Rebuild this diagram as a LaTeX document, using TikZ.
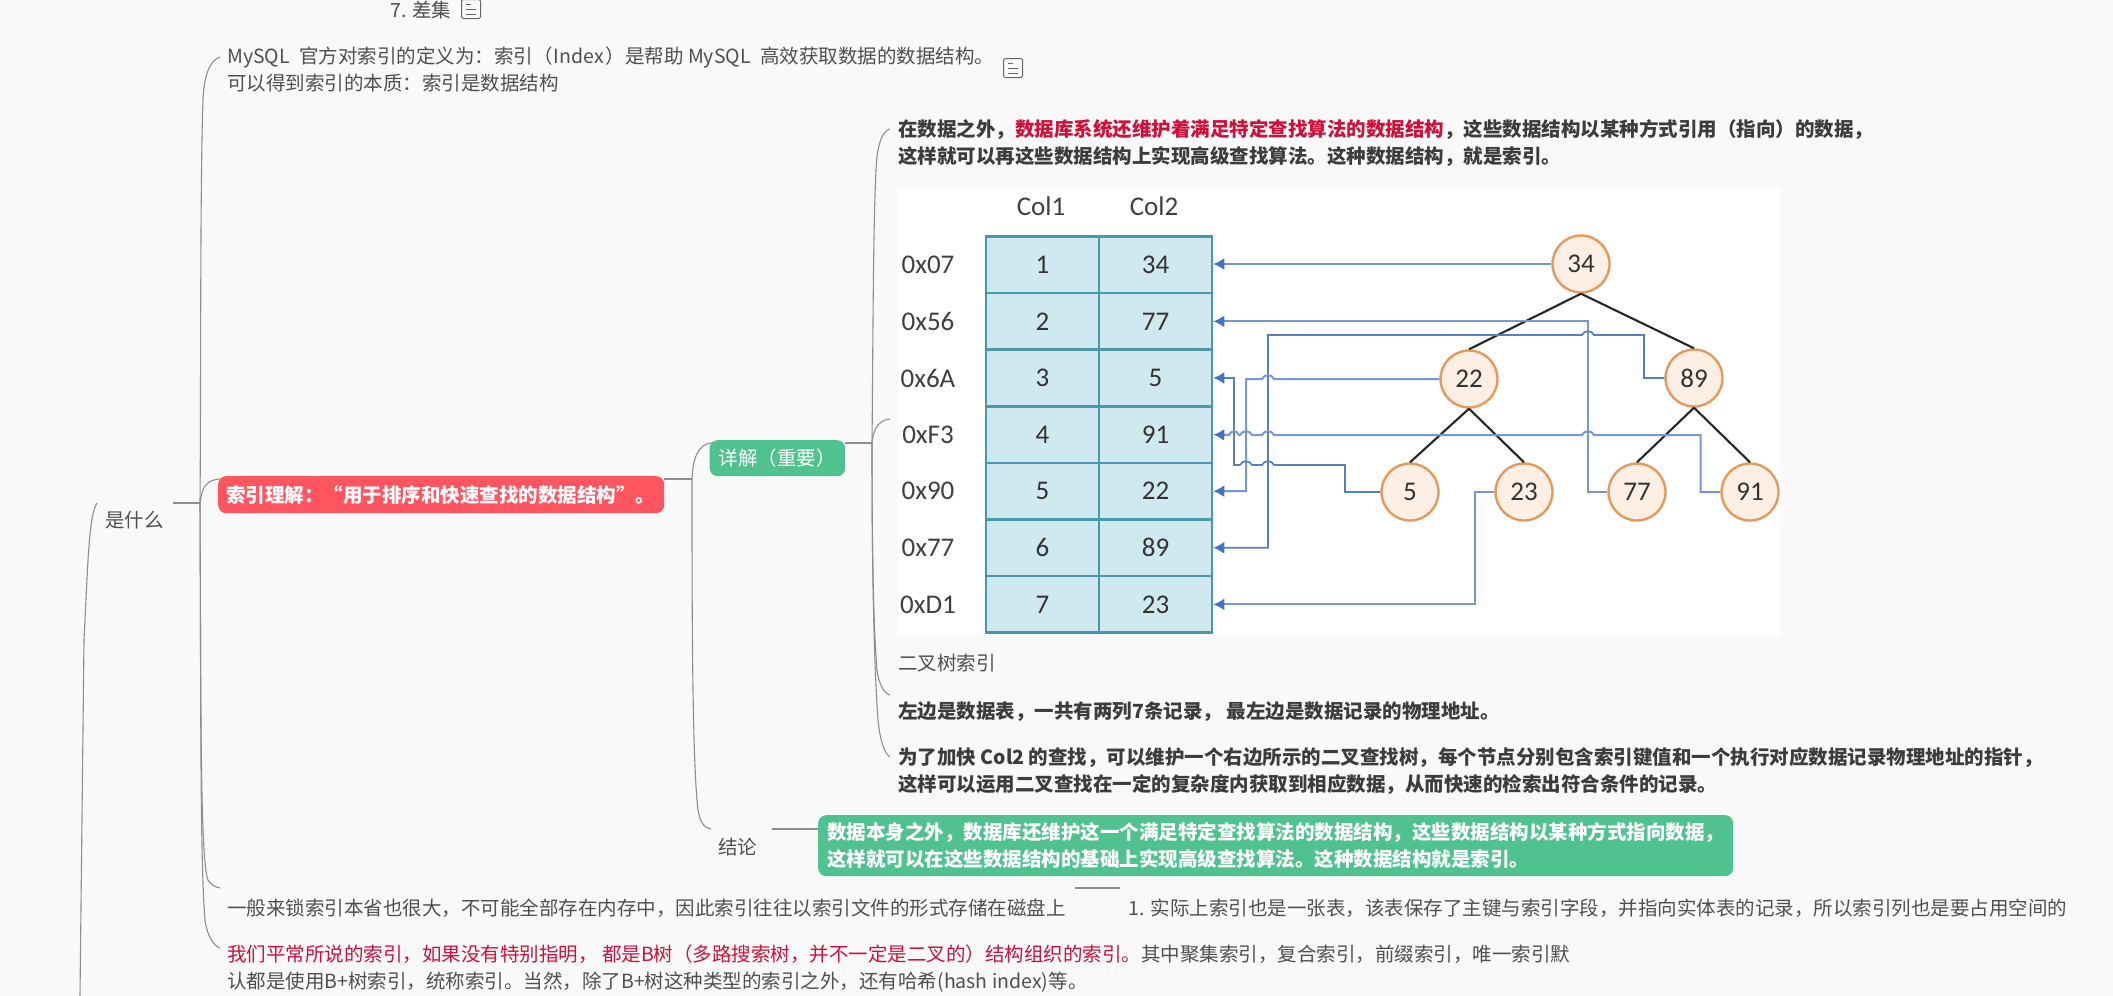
\documentclass[tikz,border=0pt]{standalone}
\usepackage{fontspec}
\setmainfont{Noto Sans CJK SC}
\newfontfamily\figfont{Carlito}
\usetikzlibrary{arrows.meta}
\definecolor{bgc}{HTML}{F9F9F9}
\definecolor{txt}{HTML}{4F4F4F}
\definecolor{btxt}{HTML}{3C3C3C}
\definecolor{redt}{HTML}{D0103A}
\definecolor{redn}{HTML}{FF5560}
\definecolor{grnn}{HTML}{50C28F}
\definecolor{brk}{HTML}{8E8E8E}
\definecolor{cellf}{HTML}{D0E8EF}
\definecolor{celld}{HTML}{4A98AC}
\definecolor{ptr}{HTML}{7598CF}
\definecolor{ptrd}{HTML}{5580BC}
\definecolor{ptrh}{HTML}{4472C4}
\definecolor{circf}{HTML}{FDEFE3}
\definecolor{circd}{HTML}{E59A5C}
\tikzset{
  x=1pt,y=-1pt,
  body/.style={inner sep=0pt,anchor=west,align=left,text=txt,font=\fontsize{19.5}{27}\selectfont},
  bold/.style={body,text=btxt,font=\fontsize{19.5}{27}\selectfont\bfseries},
  brace/.style={draw=brk,line width=1.1pt},
  stub/.style={draw=brk,line width=1.7pt},
  redbox/.style={fill=redn,rounded corners=8pt,inner xsep=8pt,inner ysep=0pt,anchor=north west,minimum height=37pt,text width=430pt,align=left,text=white,font=\fontsize{19.5}{27}\selectfont\bfseries},
  grnbox/.style={fill=grnn,rounded corners=8pt,inner xsep=8pt,inner ysep=0pt,anchor=north west,align=left,text=white},
  cell/.style={draw=celld,line width=2.6pt,fill=cellf,minimum width=113pt,minimum height=56.6pt,inner sep=0pt,font=\figfont\fontsize{27}{28}\selectfont,text=black!80},
  fig/.style={inner sep=0pt,font=\figfont\fontsize{27}{28}\selectfont,text=black!75},
  tree/.style={circle,draw=circd,line width=2.4pt,fill=circf,minimum size=57pt,inner sep=0pt,font=\figfont\fontsize{27}{28}\selectfont,text=black!80},
  edge/.style={draw=black!85,line width=2.1pt},
  pointer/.style={draw=ptr,line width=2pt,-{Latex[length=11pt,width=12pt,color=ptrh]}},
  pointerd/.style={draw=ptrd,line width=1.7pt,-{Latex[length=11pt,width=12pt,color=ptrh]}},
  note/.style={draw=black!60,line width=1pt,rounded corners=1.5pt,fill=none,minimum width=19pt,minimum height=19pt,inner sep=0pt},
}
\begin{document}
\begin{tikzpicture}
\useasboundingbox (0,0) rectangle (2113,996);
\fill[bgc] (0,0) rectangle (2113,996);

% top text
\node[body] (diff) at (390,10) {7. 差集};
\node[note] (noteA) at (471,9) {};
\draw[black!60,line width=1pt] (466,4)--(471,4) (466,9)--(476,9) (466,14)--(476,14);
\node[body] (def) at (227,69.5) {MySQL\hspace{5pt} 官方对索引的定义为：索引（\hspace{1pt}Index\hspace{2pt}）是帮助 MySQL\hspace{5pt} 高效获取数据的数据结构。\\可以得到索引的本质：索引是数据结构};
\node[note] (noteB) at (1013,68) {};
\draw[black!60,line width=1pt] (1008,63)--(1013,63) (1008,68)--(1018,68) (1008,73)--(1018,73);

% left-hand nodes
\node[body] (what) at (105,520) {是什么};
\node[redbox] (red) at (218,476) {索引理解：“用于排序和快速查找的数据结构”。};
\node[grnbox,minimum width=135.5pt,minimum height=36pt,font=\fontsize{19.5}{27}\selectfont] (detail) at (709.5,440) {详解（重要）};
\node[body] (concl) at (718,847) {结论};
\node[grnbox,minimum width=915pt,minimum height=61pt,font=\fontsize{19.5}{27}\selectfont\bfseries] (conclbox) at (818,815) {数据本身之外，数据库还维护这一个满足特定查找算法的数据结构，这些数据结构以某种方式指向数据，\\这样就可以在这些数据结构的基础上实现高级查找算法。这种数据结构就是索引。};
\node[body] (general) at (227,908) {一般来锁索引本省也很大，不可能全部存在内存中，因此索引往往以索引文件的形式存储在磁盘上};
\node[body] (real) at (1128.5,908) {1. 实际上索引也是一张表，该表保存了主键与索引字段，并指向实体表的记录，所以索引列也是要占用空间的};
\node[body] (usual) at (227,968.5) {\textcolor{redt}{我们平常所说的索引，如果没有特别指明， 都是B树（多路搜索树，并不一定是二叉的）结构组织的索引。}其中聚集索引，复合索引，前缀索引，唯一索引默\\认都是使用B+树索引，统称索引。当然，除了B+树这种类型的索引之外，还有哈希(hash index)等。};

% detail texts
\node[bold] (t1) at (898,143.5) {在数据之外，\textcolor{redt}{数据库系统还维护着满足特定查找算法的数据结构}，这些数据结构以某种方式引用（指向）的数据，\\这样就可以再这些数据结构上实现高级查找算法。这种数据结构，就是索引。};
\node[body] (cap) at (898,663) {二叉树索引};
\node[bold] (t2) at (898,712) {左边是数据表，一共有两列7条记录， 最左边是数据记录的物理地址。};
\node[bold] (t3) at (898,771) {为了加快 Col2 的查找，可以维护一个右边所示的二叉查找树，每个节点分别包含索引键值和一个执行对应数据记录物理地址的指针，\\这样可以运用二叉查找在一定的复杂度内获取到相应数据，从而快速的检索出符合条件的记录。};

% mind map connectors
\coordinate (j0) at (200,503);
\coordinate (j1) at (692,479);
\coordinate (j2) at (872,443);
\coordinate (whatTop) at (97,503);
\draw[stub] (173,503) -- (j0);
\draw[brace] (whatTop) .. controls (89,515) and (88,560) .. (84,640) -- (80,996);
\draw[brace] (j0) .. controls (201,400) and (200,180) .. (203,100) .. controls (204,75) and (210,60) .. (220,57);
\draw[brace] (j0) .. controls (202,490) and (204,480) .. (220,479);
\draw[brace] (j0) .. controls (201,700) and (200,860) .. (208,880) .. controls (211,885) and (215,887) .. (220,888);
\draw[brace] (j0) .. controls (201,700) and (200,860) .. (205,920) .. controls (207,936) and (214,946) .. (220,948);
\draw[stub] (red.north east |- j1) -- (j1);
\draw[brace] (j1) .. controls (693,460) and (697,443) .. (713,443);
\draw[brace] (j1) .. controls (692,600) and (692,760) .. (698,810) .. controls (700,822) and (704,828) .. (711,829);
\draw[stub] (detail.north east |- j2) -- (j2);
\draw[brace] (j2) .. controls (873,350) and (873,230) .. (876,170) .. controls (877,145) and (882,131) .. (890,129);
\draw[brace] (j2) .. controls (873,432) and (877,420) .. (890,419);
\draw[brace] (j2) .. controls (872,540) and (873,620) .. (877,670) .. controls (879,685) and (884,693) .. (890,695);
\draw[brace] (j2) .. controls (872,540) and (873,650) .. (878,720) .. controls (880,740) and (884,753) .. (890,757);
\draw[stub] (772,829) -- (conclbox.west |- 0,829);
\draw[stub] (1075,888) -- (1120,888);

% embedded figure
\fill[white] (898,189) rectangle (1780,635);
\foreach \n/\y/\a/\b/\addr in {1/264.8/1/34/0x07,2/321.4/2/77/0x56,3/378/3/5/0x6A,4/434.6/4/91/0xF3,5/491.2/5/22/0x90,6/547.8/6/89/0x77,7/604.4/7/23/0xD1}{
  \node[cell] (a\n) at (1042.5,\y) {\a};
  \node[cell] (b\n) at (1155.5,\y) {\b};
  \node[fig] (addr\n) at (928,\y) {\addr};
}
\node[fig] (col1) at (1041,206) {Col1};
\node[fig] (col2) at (1154,206) {Col2};

\node[tree] (n34) at (1581,264) {34};
\node[tree] (n22) at (1469,379) {22};
\node[tree] (n89) at (1694,378) {89};
\node[tree] (n5) at (1410,492) {5};
\node[tree] (n23) at (1524,492) {23};
\node[tree] (n77) at (1637,492) {77};
\node[tree] (n91) at (1750,492) {91};

\draw[edge] (n34.south) -- (n22.north);
\draw[edge] (n34.south) -- (n89.north);
\draw[edge] (n22.south) -- (n5.north);
\draw[edge] (n22.south) -- (n23.north);
\draw[edge] (n89.south) -- (n77.north);
\draw[edge] (n89.south) -- (n91.north);

\draw[pointer] (n34.west) -- (b1.east |- n34.west);
\draw[pointer] (n77.west) -- (1588,492) -- (1588,321.4) -- (b2.east);
\draw[pointerd] (n89.west) -- (1644,378) -- (1644,335) -- (1594,335) .. controls (1592,330) and (1584,330) .. (1582,335) -- (1268,335) -- (1268,547.8) -- (b6.east);
\draw[pointer] (n22.west) -- (1274,379) .. controls (1272,374) and (1264,374) .. (1262,379) -- (1246,379) -- (1246,491.2) -- (b5.east);
\draw[pointerd] (n5.west) -- (1345,492) -- (1345,465) -- (1274,465) .. controls (1272,460) and (1264,460) .. (1262,465) -- (1252,465) .. controls (1250,460) and (1242,460) .. (1240,465) -- (1234,465) -- (1234,378) -- (b3.east);
\draw[pointer] (n91.west) -- (1700.5,492) -- (1700.5,435) -- (1594,435) .. controls (1592,430) and (1584,430) .. (1582,435) -- (1274,435) .. controls (1272,430) and (1264,430) .. (1262,435) -- (1252,435) .. controls (1250,430) and (1242,430) .. (1240,435) -- (1239,435) .. controls (1237,430) and (1231,430) .. (1229,435) -- (b4.east);
\draw[pointer] (n23.west) -- (1475,492) -- (1475,604.4) -- (b7.east);
\end{tikzpicture}
\end{document}
